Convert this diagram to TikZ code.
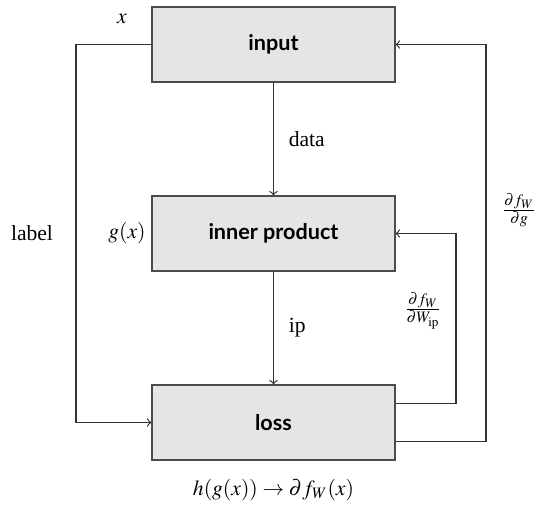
\documentclass[tikz,border=0pt]{standalone}
\usepackage{mathptmx}
\usepackage{fontspec}
\setmainfont{Liberation Serif}
\newfontfamily\boxfont{Lato}
\begin{document}
\begin{tikzpicture}[x=0.5pt,y=-0.5pt,
  font=\fontsize{10.8}{13}\selectfont,
  blk/.style={draw=black!70,fill=black!10,line width=0.6pt,minimum width=121.5pt,minimum height=37.5pt,inner sep=0pt,font=\fontsize{10.8}{13}\selectfont\boxfont\bfseries},
  conn/.style={draw=black!80,line width=0.6pt},
  arr/.style={conn,->}]
\useasboundingbox (0,0) rectangle (537,515);
\node[blk] (input) at (273.5,44.5) {input};
\node[blk] (inner) at (273.5,233.5) {inner product};
\node[blk] (loss) at (273.5,422.5) {loss};
\coordinate (lft) at (76,0);
\coordinate (r1) at (456,0);
\coordinate (r2) at (486,0);
\draw[arr] (input.south) -- node[right=4pt] (ldata) {data} (inner.north);
\draw[arr] (inner.south) -- node[right=4pt] (lip) {ip} (loss.north);
\draw[arr] (input.west) -| (lft |- loss.west) -- (loss.west);
\draw[arr] ([yshift=9.5pt]loss.east) -| (r1 |- inner.east) -- (inner.east);
\draw[arr] ([yshift=-9.5pt]loss.east) -| (r2 |- input.east) -- (input.east);
\node (lx) at (122,19) {$x$};
\node (lg) at (127,233) {$g(x)$};
\node (llab) at (32,233) {label};
\node (ld1) at (423,311) {$\frac{\partial f_W}{\partial W_{\mathrm{ip}}}$};
\node (ld2) at (519,210) {$\frac{\partial f_W}{\partial g}$};
\node (lform) at (273.5,490) {$h(g(x)) \to \partial f_W(x)$};
\end{tikzpicture}
\end{document}
